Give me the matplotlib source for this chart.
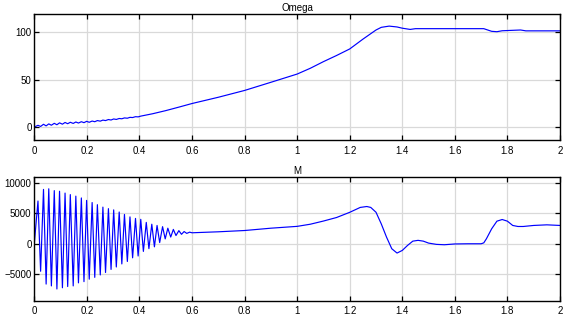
import matplotlib
matplotlib.use("Agg")
import matplotlib.pyplot as plt

plt.rcParams['font.family'] = ['Liberation Sans', 'DejaVu Sans']

# ---- Omega (top) ----
omega_t = [0.000, 0.014, 0.024, 0.035, 0.045, 0.055, 0.065, 0.076, 0.086, 0.096,
           0.107, 0.117, 0.127, 0.137, 0.148, 0.158, 0.168, 0.179, 0.189, 0.199,
           0.209, 0.220, 0.230, 0.240, 0.251, 0.261, 0.271, 0.282, 0.292, 0.302,
           0.312, 0.323, 0.333, 0.343, 0.354, 0.364, 0.374, 0.385, 0.395, 0.405,
           0.45, 0.50, 0.55, 0.60, 0.70, 0.80, 0.90, 1.00, 1.05, 1.10, 1.15, 1.20,
           1.25, 1.30, 1.32, 1.35, 1.38, 1.40, 1.43, 1.45, 1.71, 1.74, 1.76, 1.78,
           1.85, 1.87, 2.00]
omega_v = [0.0, 1.8, 0.6, 2.9, 1.2, 3.3, 1.9, 3.9, 2.4, 4.4,
           3.0, 4.8, 3.5, 5.0, 3.8, 5.3, 4.2, 5.6, 4.6, 6.0,
           5.0, 6.3, 5.6, 6.8, 6.2, 7.3, 6.8, 7.9, 7.4, 8.5,
           8.0, 9.0, 8.7, 9.6, 9.3, 10.2, 10.0, 10.9, 10.7, 11.5,
           14.0, 17.3, 21.0, 24.8, 31.4, 38.6, 47.2, 55.9, 62.0, 69.0, 75.5, 82.4,
           92.7, 102.4, 105.2, 106.5, 105.6, 104.3, 103.0, 103.8, 103.8, 101.0, 100.6, 101.6,
           102.4, 101.5, 101.5]

# ---- M (bottom) ----
m_t = [0.000, 0.014, 0.024, 0.035, 0.045, 0.055, 0.065, 0.076, 0.086, 0.096,
       0.107, 0.117, 0.127, 0.137, 0.148, 0.158, 0.168, 0.179, 0.189, 0.199,
       0.209, 0.220, 0.230, 0.240, 0.251, 0.261, 0.271, 0.282, 0.292, 0.302,
       0.312, 0.323, 0.333, 0.343, 0.354, 0.364, 0.374, 0.385, 0.395, 0.405,
       0.415, 0.426, 0.436, 0.447, 0.457, 0.467, 0.477, 0.488, 0.498, 0.508,
       0.519, 0.529, 0.539, 0.550, 0.560, 0.570, 0.580, 0.591,
       0.60, 0.70, 0.80, 0.90, 1.00, 1.05, 1.10, 1.15, 1.20, 1.24, 1.265, 1.28,
       1.30, 1.32, 1.34, 1.36, 1.38, 1.40, 1.42, 1.44, 1.46, 1.48, 1.50, 1.53,
       1.56, 1.60, 1.65, 1.70, 1.71, 1.72, 1.74, 1.76, 1.78, 1.80, 1.82, 1.84,
       1.86, 1.90, 1.95, 2.00]
m_v = [0, 7000, -4500, 8900, -6600, 9000, -6900, 8700, -7400, 8600,
       -7200, 8300, -7000, 8050, -6900, 7800, -6400, 7500, -6200, 7100,
       -5800, 6750, -5500, 6400, -5100, 6000, -4700, 5750, -4200, 5550,
       -3800, 5200, -3300, 4800, -2900, 4400, -2300, 4150, -2000, 4000,
       -1250, 3500, -800, 3200, -500, 3000, 200, 2800, 800, 2550,
       1100, 2350, 1350, 2150, 1550, 2000, 1700, 1900,
       1800, 1960, 2170, 2550, 2850, 3200, 3720, 4300, 5150, 5950, 6100, 5950,
       5160, 3260, 1090, -815, -1520, -1090, -270, 430, 560, 430, 110, -100,
       -160, -30, 0, 0, 150, 815, 2450, 3700, 3970, 3700, 3000, 2830,
       2830, 3000, 3100, 3000]

x_ticks = [0, 0.2, 0.4, 0.6, 0.8, 1.0, 1.2, 1.4, 1.6, 1.8, 2.0]
x_labels = ['0', '0.2', '0.4', '0.6', '0.8', '1', '1.2', '1.4', '1.6', '1.8', '2']
omega_yticks = [0, 50, 100]
m_yticks = [-5000, 0, 5000, 10000]

W, H = 567, 317
fig = plt.figure(figsize=(W / 100, H / 100), dpi=100)
fig.patch.set_facecolor('white')

def px_axes(l, t, r, b):
    return fig.add_axes([l / W, 1 - b / H, (r - l) / W, (b - t) / H])

ax1 = px_axes(34.3, 13.7, 560, 140)
ax2 = px_axes(34.3, 176.7, 560, 300.7)

def style(ax, title, yticks, ylim):
    ax.set_xlim(0, 2)
    ax.set_ylim(*ylim)
    ax.set_xticks(x_ticks)
    ax.set_xticklabels(x_labels)
    ax.set_yticks(yticks)
    ax.grid(True, color='#d9d9d9', linewidth=0.9, linestyle='-')
    ax.set_axisbelow(True)
    ax.tick_params(direction='in', length=3.5, width=0.9, top=True, right=True,
                   labelsize=7, colors='black')
    ax.tick_params(axis='x', pad=4)
    ax.tick_params(axis='y', pad=2)
    for s in ax.spines.values():
        s.set_linewidth(1.0)
        s.set_color('black')
    ax.set_title(title, fontsize=7, pad=2)

ax1.plot(omega_t, omega_v, color='#0000ff', linewidth=0.85)
style(ax1, 'Omega', omega_yticks, (-13.7, 119.6))

ax2.plot(m_t, m_v, color='#0000ff', linewidth=0.85)
style(ax2, 'M', m_yticks, (-9320, 10980))

fig.savefig('out.png', dpi=100)
